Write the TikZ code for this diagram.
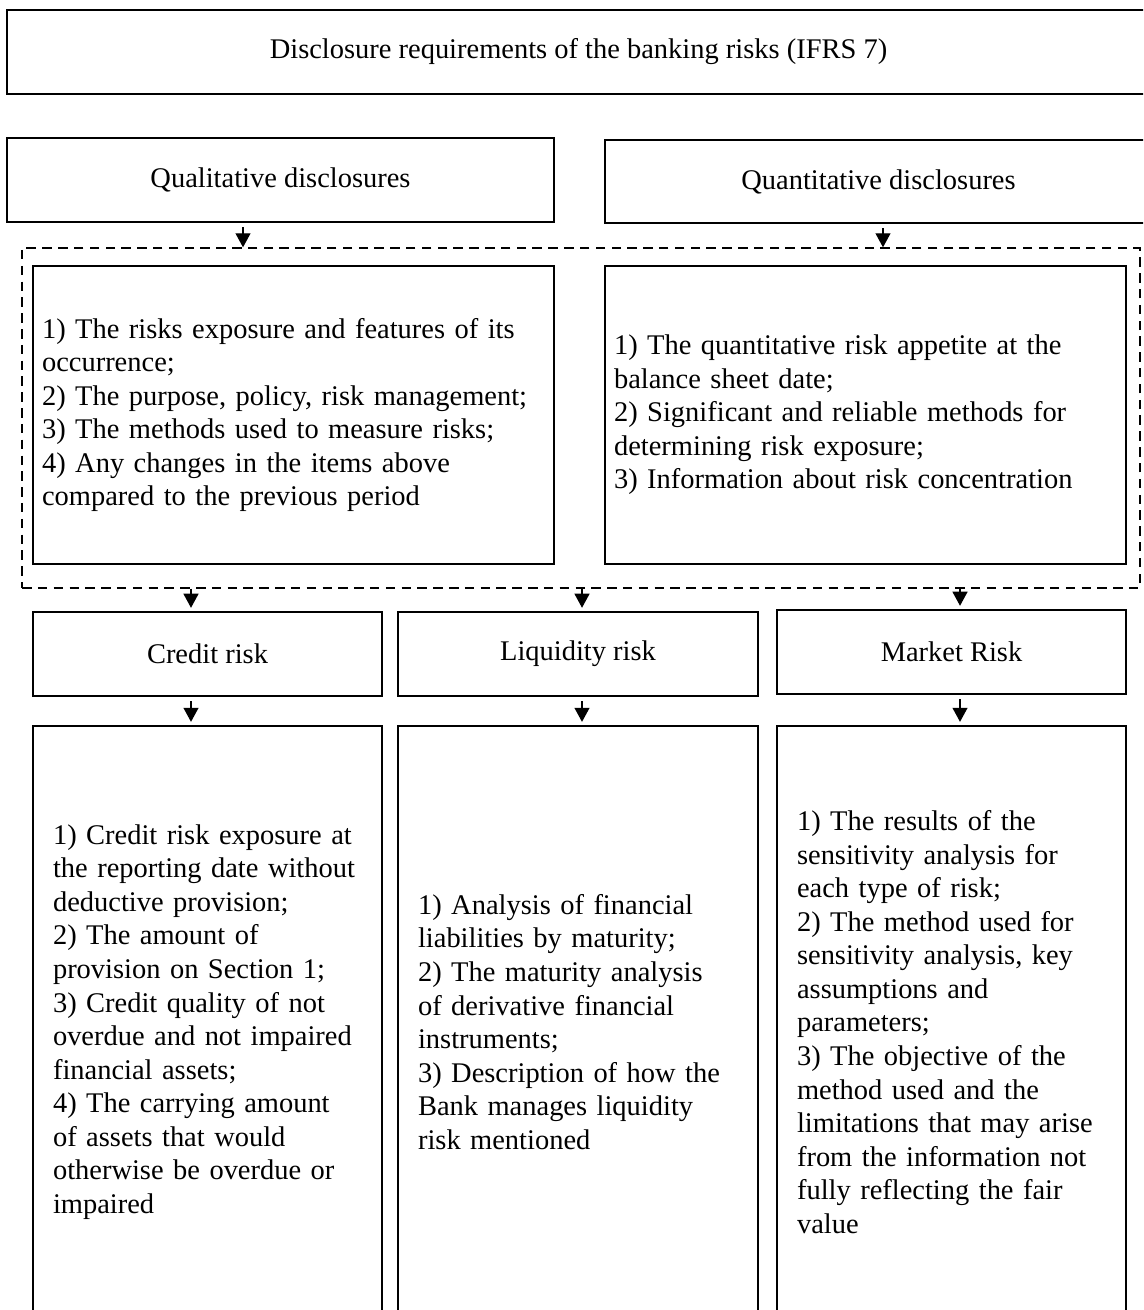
\documentclass[tikz,border=0pt]{standalone}
\usepackage{fontspec}
\setmainfont{Liberation Serif}
\usetikzlibrary{arrows.meta}

\begin{document}
\begin{tikzpicture}[x=0.02cm, y=-0.02cm, font=\fontsize{16.2}{19.1}\selectfont]
\tikzstyle{frame}=[rectangle, draw=black, line width=0.8pt, inner sep=0pt]
\tikzstyle{head box}=[frame, minimum height=1.68cm];
\tikzstyle{list box}=[frame, align=left, inner xsep=0.18cm, text width=10.06cm, minimum height=5.96cm];
\tikzstyle{risk box}=[frame, align=left, inner xsep=0.4cm, text width=6.18cm, minimum height=11.84cm];
\tikzstyle{group box}=[rectangle, draw=black, line width=0.8pt, dash pattern=on 5.4pt off 3.6pt, minimum width=22.36cm, minimum height=6.8cm]
\tikzstyle{drop}=[-{Triangle[width=8.5pt, length=8pt]}, line width=0.8pt, shorten <=2.5pt, shorten >=2pt]

% Page size, the right and bottom boxes run off it
\useasboundingbox (0,0) rectangle (1143,1310);
\clip (0,0) rectangle (1143,1310);

% Draw the heading boxes
\node[head box, minimum width=22.86cm] (ifrs) at (578.5, 52) {Disclosure requirements of the banking risks (IFRS 7)};
\node[head box, minimum width=10.94cm] (qual) at (280.5, 180) {Qualitative disclosures};
\node[head box, minimum width=10.94cm, minimum height=1.66cm] (quant) at (878.5, 181.5) {Quantitative disclosures};

% Dashed group with the two lists
\node[group box] (group) at (581, 418) {};
\node[list box] (qual list) at (293.5, 415) {1) The risks exposure and features of its\\occurrence;\\2) The purpose, policy, risk management;\\3) The methods used to measure risks;\\4) Any changes in the items above\\compared to the previous period};
\node[list box] (quant list) at (865.5, 415) {1) The quantitative risk appetite at the\\balance sheet date;\\2) Significant and reliable methods for\\determining risk exposure;\\3) Information about risk concentration};

% Draw the risk boxes
\node[head box, minimum width=6.98cm] (credit) at (207.5, 654) {Credit risk};
\node[head box, minimum width=7.2cm] (liquidity) at (578, 654) {Liquidity risk};
\node[head box, minimum width=6.98cm] (market) at (951.5, 652) {Market Risk};

\node[risk box] (credit info) at (207.5, 1022) {1) Credit risk exposure at\\the reporting date without\\deductive provision;\\2) The amount of\\provision on Section 1;\\3) Credit quality of not\\overdue and not impaired\\financial assets;\\4) The carrying amount\\of assets that would\\otherwise be overdue or\\impaired};
\node[risk box, text width=6.4cm] (liquidity info) at (578, 1022) {1) Analysis of financial\\liabilities by maturity;\\2) The maturity analysis\\of derivative financial\\instruments;\\3) Description of how the\\Bank manages liquidity\\risk mentioned};
\node[risk box] (market info) at (951.5, 1022) {1) The results of the\\sensitivity analysis for\\each type of risk;\\2) The method used for\\sensitivity analysis, key\\assumptions and\\parameters;\\3) The objective of the\\method used and the\\limitations that may arise\\from the information not\\fully reflecting the fair\\value};

% Arrows
\coordinate (qual drop) at (243, 0);
\coordinate (quant drop) at (883, 0);
\coordinate (credit drop) at (191, 0);
\coordinate (liquidity drop) at (582, 0);
\coordinate (market drop) at (960, 0);

\draw[drop, shorten >=0pt] (qual.south -| qual drop) -- (group.north -| qual drop);
\draw[drop, shorten >=0pt] (quant.south -| quant drop) -- (group.north -| quant drop);

\foreach \col in {credit, liquidity, market} {
    \draw[drop, shorten <=0pt] (group.south -| \col\space drop) -- (\col.north -| \col\space drop);
    \draw[drop] (\col.south -| \col\space drop) -- (\col\space info.north -| \col\space drop);
};

\end{tikzpicture}
\end{document}
